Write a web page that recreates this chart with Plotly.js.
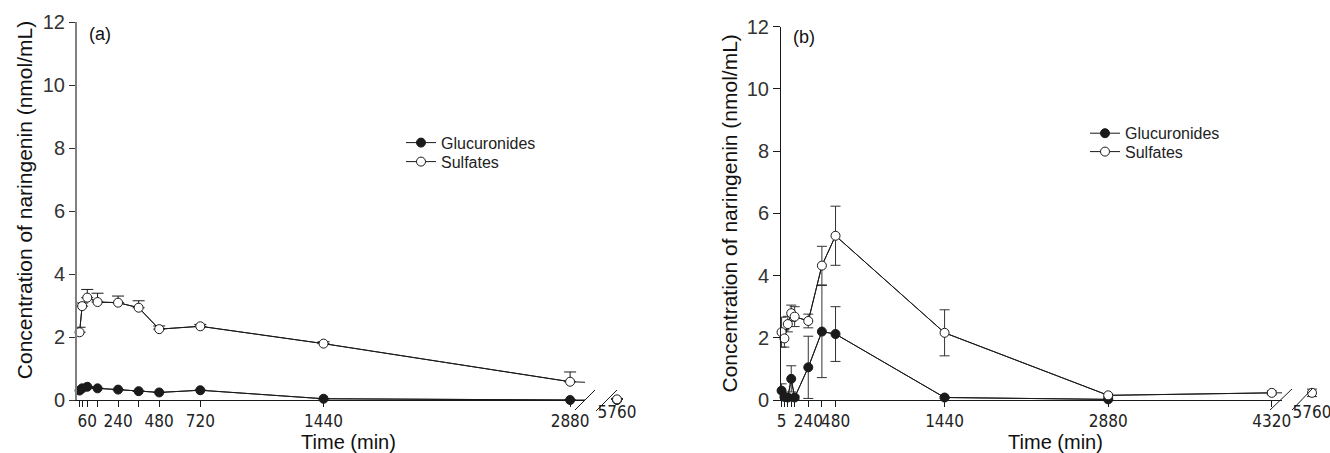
<!DOCTYPE html>
<html><head><meta charset="utf-8">
<script src="https://cdn.plot.ly/plotly-3.0.1.min.js"></script>
<style>html,body{margin:0;padding:0;background:#fff}#chart{width:1330px;height:453px}</style>
</head><body><div id="chart"></div>
<script>
// ---------- data : panel (a) ----------
const timeA = [15, 30, 60, 120, 240, 360, 480, 720, 1440, 2880, 5760];
const glucA = [0.30, 0.37, 0.42, 0.37, 0.33, 0.28, 0.24, 0.31, 0.04, 0.00, 0.00];
const glucAErr = [0, 0, 0, 0, 0, 0, 0, 0, 0, 0, 0];
const sulfA = [2.15, 2.98, 3.25, 3.11, 3.09, 2.93, 2.25, 2.34, 1.79, 0.58, 0.02];
const sulfAErr = [0.16, 0.10, 0.26, 0.28, 0.21, 0.22, 0.10, 0.06, 0.06, 0.31, 0.03];
const tickTimesA = [15, 30, 60, 120, 240, 360, 480, 720, 1440, 2880];
const tickLabelsA = ['', '', '60', '', '240', '', '480', '720', '1440', '2880'];
// ---------- data : panel (b) ----------
const timeB = [5, 30, 60, 90, 120, 240, 360, 480, 1440, 2880, 4320, 5760];
const glucB = [0.30, 0.10, 0.08, 0.68, 0.08, 1.05, 2.20, 2.12, 0.08, 0.02, null, null];
const glucBErr = [0.22, 0.05, 0.05, 0.42, 0.05, 1.00, 1.48, 0.88, 0.03, 0.02, 0, 0];
const sulfB = [2.18, 1.98, 2.44, 2.79, 2.68, 2.54, 4.32, 5.28, 2.16, 0.15, 0.23, 0.23];
const sulfBErr = [0.48, 0.28, 0.25, 0.26, 0.32, 0.22, 0.62, 0.95, 0.74, 0.05, 0.06, 0.12];
const tickTimesB = [5, 30, 60, 90, 120, 240, 360, 480, 1440, 2880, 4320];
const tickLabelsB = ['5', '', '', '', '', '240', '', '480', '1440', '2880', '4320'];
const breakTick = [5760];
const yTicks = [0, 2, 4, 6, 8, 10, 12];
const seriesNames = ['Glucuronides', 'Sulfates'];
const yTitle = 'Concentration of naringenin (nmol/mL)';
const xTitle = 'Time (min)';

// ---------- layout geometry ----------
const ML = 77, MT = 22, MB = 53, MR = 0, WW = 1330, HH = 453;
const PW = WW - ML - MR, PH = HH - MT - MB;
const px = p => (p - ML) / PW;
const py = p => (HH - MB - p) / PH;

const FONT = 'Liberation Sans, Arial, Helvetica, sans-serif';
const NARROW = 'Liberation Sans Narrow, Arial Narrow, DejaVu Sans Condensed, sans-serif';
const INK = '#1a1a1a';

const mainMaxA = 2967, mainMaxB = 4410;

function pick(arr, idx) { return idx.map(i => arr[i]); }

function series(times, vals, errs, name, filled, xMain, xBrk, yAx, mainMax, legendId, symmetric, errColor, capW) {
  const inIdx = times.map((t, i) => i).filter(i => times[i] <= mainMax);
  const outIdx = times.map((t, i) => i).filter(i => times[i] > mainMax);
  const marker = {symbol: 'circle', size: 9, color: filled ? INK : '#ffffff', line: {color: INK, width: 1}};
  const err = arr => symmetric
    ? {type: 'data', array: arr, symmetric: true, color: errColor, thickness: 1, width: capW}
    : {type: 'data', array: arr, arrayminus: arr.map(() => 0), symmetric: false, color: errColor, thickness: 1, width: capW};
  return [
    {x: times, y: vals, xaxis: xMain, yaxis: yAx, mode: 'lines', line: {color: INK, width: 1},
     showlegend: false, hoverinfo: 'skip', connectgaps: false},
    {x: pick(times, inIdx), y: pick(vals, inIdx), xaxis: xMain, yaxis: yAx, mode: 'lines+markers',
     name: name, legend: legendId, line: {color: INK, width: 1}, marker: marker, cliponaxis: false,
     error_y: err(pick(errs, inIdx))},
    {x: pick(times, outIdx), y: pick(vals, outIdx), xaxis: xBrk, yaxis: yAx, mode: 'markers',
     showlegend: false, marker: marker, cliponaxis: false, error_y: err(pick(errs, outIdx))}
  ];
}

// empty traces so that the title-only axes get a subplot
const holder = (xa, ya) => ({x: [], y: [], xaxis: xa, yaxis: ya, mode: 'markers', showlegend: false, hoverinfo: 'skip'});

const data = [].concat(
  series(timeA, glucA, glucAErr, seriesNames[0], true, 'x', 'x2', 'y', mainMaxA, 'legend', false, INK, 6),
  series(timeA, sulfA, sulfAErr, seriesNames[1], false, 'x', 'x2', 'y', mainMaxA, 'legend2', false, INK, 6),
  series(timeB, glucB, glucBErr, seriesNames[0], true, 'x3', 'x4', 'y2', mainMaxB, 'legend3', true, '#333', 5),
  series(timeB, sulfB, sulfBErr, seriesNames[1], false, 'x3', 'x4', 'y2', mainMaxB, 'legend4', true, '#333', 5),
  [holder('x5', 'y'), holder('x6', 'y2'), holder('x', 'y3')]
);

const xTickFont = {family: NARROW, size: 17, color: '#222'};
const yTickFont = {family: FONT, size: 20, color: '#333'};
const baseX = {showgrid: false, zeroline: false, fixedrange: true, tickfont: xTickFont, ticks: 'outside',
  ticklen: 6, tickcolor: INK, tickwidth: 1, automargin: false, tickangle: 0, ticklabeloverflow: 'allow'};
const titleFont = {family: FONT, size: 21, color: '#111'};
const dummy = {showline: false, showgrid: false, zeroline: false, ticks: '', showticklabels: false,
  fixedrange: true, automargin: false, range: [0, 1]};

const slash = (x0, y0, x1, y1) => ({type: 'line', xref: 'paper', yref: 'paper',
  x0: px(x0), y0: py(y0), x1: px(x1), y1: py(y1), line: {color: INK, width: 1}});
const leg = (xp, yp) => ({x: px(xp), y: py(yp), xanchor: 'left', yanchor: 'top', bgcolor: 'rgba(0,0,0,0)',
  font: {family: FONT, size: 16, color: '#222'}, tracegroupgap: 0, itemclick: false});

const layout = {
  width: WW, height: HH,
  margin: {l: ML, r: MR, t: MT, b: MB, pad: 0},
  paper_bgcolor: '#fff', plot_bgcolor: 'rgba(0,0,0,0)',
  font: {family: FONT, color: '#222'},
  showlegend: true,
  xaxis: Object.assign({}, baseX, {domain: [0, px(585)], range: [0, mainMaxA], anchor: 'y',
    showline: true, linecolor: INK, linewidth: 1, tickvals: tickTimesA, ticktext: tickLabelsA}),
  xaxis2: Object.assign({}, baseX, {domain: [px(603), px(631)], range: [5700, 5820], anchor: 'y',
    showline: false, ticks: '', tickvals: breakTick, ticktext: breakTick.map(String)}),
  xaxis3: Object.assign({}, baseX, {domain: [px(781), px(1282)], range: [0, mainMaxB], anchor: 'y2',
    showline: true, linecolor: INK, linewidth: 1, tickvals: tickTimesB, ticktext: tickLabelsB}),
  xaxis4: Object.assign({}, baseX, {domain: [px(1298), 1], range: [5704, 5832], anchor: 'y2',
    showline: false, ticks: '', tickvals: breakTick, ticktext: breakTick.map(String)}),
  xaxis5: Object.assign({}, dummy, {domain: [0, px(620)], anchor: 'y',
    title: {text: xTitle, font: {family: FONT, size: 20, color: '#111'}, standoff: 37}}),
  xaxis6: Object.assign({}, dummy, {domain: [px(781), 1], anchor: 'y2',
    title: {text: xTitle, font: {family: FONT, size: 20, color: '#111'}, standoff: 37}}),
  yaxis: {domain: [0, 1], range: [0, 12], anchor: 'x', showline: true, linecolor: '#808080', linewidth: 2,
    ticks: 'outside', ticklen: 6, tickcolor: '#333', tickvals: yTicks, tickfont: yTickFont,
    showgrid: false, zeroline: false, fixedrange: true, automargin: false},
  yaxis2: {domain: [0, py(26.7)], range: [0, 12], anchor: 'x3', showline: true, linecolor: INK, linewidth: 1,
    ticks: 'outside', ticklen: 7, tickcolor: INK, tickvals: yTicks, tickfont: yTickFont,
    showgrid: false, zeroline: false, fixedrange: true, automargin: false,
    title: {text: yTitle, font: titleFont, standoff: 3}},
  yaxis3: Object.assign({}, dummy, {domain: [py(378), 1], anchor: 'x',
    title: {text: yTitle, font: titleFont, standoff: 37}}),
  legend: leg(401, 125.7),
  legend2: leg(401, 144.7),
  legend3: leg(1085, 116.3),
  legend4: leg(1085, 134.7),
  annotations: [
    {text: '(a)', xref: 'paper', yref: 'paper', x: px(100), y: py(34), xanchor: 'center', yanchor: 'middle',
     showarrow: false, font: {family: FONT, size: 18, color: '#111'}},
    {text: '(b)', xref: 'paper', yref: 'paper', x: px(804), y: py(37), xanchor: 'center', yanchor: 'middle',
     showarrow: false, font: {family: FONT, size: 18, color: '#111'}}
  ],
  shapes: [
    slash(575, 410, 595, 390), slash(596, 411, 617, 390),
    slash(1270, 410, 1292, 389), slash(1292, 410, 1312, 389)
  ]
};

Plotly.newPlot('chart', data, layout, {staticPlot: true, displayModeBar: false});
</script>
</body></html>
